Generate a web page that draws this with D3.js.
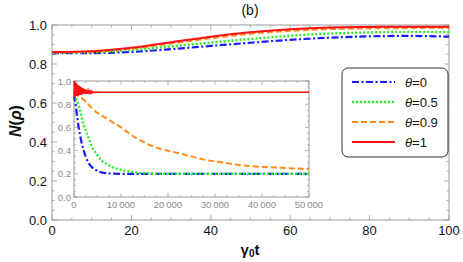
<!DOCTYPE html>
<html>
<head>
<meta charset="utf-8">
<script src="https://cdn.jsdelivr.net/npm/d3@7/dist/d3.min.js"></script>
<style>
  body { margin: 0; background: #fff; }
  svg { display: block; font-family: "Liberation Sans", Arial, sans-serif; }
</style>
</head>
<body>
<svg></svg>
<script>
var svg = d3.select("svg");
var svgWidth = 463, svgHeight = 262;
svg.attr("width", svgWidth).attr("height", svgHeight);

// main panel data (gamma0 t from 0 to 100)
var tMain = [0, 10, 20, 30, 40, 50, 60, 70, 80, 90, 100];
var mainTheta0  = [0.855, 0.856, 0.862, 0.876, 0.893, 0.909, 0.924, 0.935, 0.942, 0.944, 0.940];
var mainTheta05 = [0.858, 0.860, 0.872, 0.890, 0.910, 0.928, 0.945, 0.956, 0.962, 0.965, 0.964];
var mainTheta09 = [0.860, 0.863, 0.878, 0.905, 0.932, 0.955, 0.970, 0.979, 0.983, 0.984, 0.984];
var mainTheta1  = [0.861, 0.865, 0.883, 0.912, 0.940, 0.963, 0.978, 0.987, 0.990, 0.991, 0.991];

// inset data (gamma0 t from 0 to 50000)
var tInsetA = [0, 500, 1000, 1500, 2000, 3000, 4000, 5000, 6000, 8000, 10000, 20000, 30000, 40000, 50000];
var insetTheta0 = [0.88, 0.75, 0.60, 0.49, 0.41, 0.30, 0.25, 0.225, 0.21, 0.202, 0.200, 0.200, 0.200, 0.200, 0.200];
var tInsetB = [0, 1000, 2000, 3000, 4000, 5000, 6000, 7000, 8000, 10000, 12000, 15000, 20000, 30000, 40000, 50000];
var insetTheta05 = [0.88, 0.79, 0.63, 0.52, 0.42, 0.36, 0.31, 0.285, 0.26, 0.235, 0.218, 0.205, 0.200, 0.200, 0.200, 0.200];
var tInsetC = [0, 1000, 2000, 3000, 4500, 6000, 8000, 10000, 12000, 14000, 16000, 18000, 21000, 25000, 28000, 32000, 35000, 40000, 45000, 50000];
var insetTheta09 = [0.90, 0.87, 0.84, 0.80, 0.74, 0.70, 0.65, 0.60, 0.54, 0.49, 0.45, 0.42, 0.39, 0.35, 0.32, 0.295, 0.276, 0.26, 0.25, 0.241];
// theta=1 oscillates fast near t=0, then settles
var tInsetD = [0, 100, 200, 300, 400, 500, 600, 700, 800, 900, 1000, 1100, 1200, 1300, 1400, 1500, 1600, 1700, 1800, 1900,
               2000, 2200, 2400, 2600, 2800, 3000, 3200, 3400, 3600, 3800, 4000, 4300, 4600, 5000, 6000, 50000];
var insetTheta1 = [0.86, 1.00, 0.86, 0.99, 0.87, 0.98, 0.87, 0.97, 0.87, 0.96, 0.88, 0.96, 0.88, 0.95, 0.88, 0.95, 0.88, 0.94, 0.89, 0.94,
                   0.89, 0.93, 0.89, 0.925, 0.89, 0.92, 0.895, 0.915, 0.895, 0.912, 0.898, 0.908, 0.90, 0.905, 0.903, 0.903];

var legendLabels = ["\u03b8=0", "\u03b8=0.5", "\u03b8=0.9", "\u03b8=1"];
var styles = [
  {color: "#1a1aff", dash: "7,2.5,2,2.5", w: 2.2},
  {color: "#2ee82e", dash: "2,2", w: 2.4},
  {color: "#ff8c1a", dash: "6,3", w: 2.0},
  {color: "#ff1010", dash: null, w: 2.0}
];

var frameColor = "#9a9a9a";

// main scales
var x = d3.scaleLinear().domain([0, 100]).range([52, 449]);
var y = d3.scaleLinear().domain([0, 1]).range([220, 25]);

function insideTicks(g, scale, orient, major, minor, len, lenMinor) {
  // inward ticks drawn on a frame side
  minor.forEach(function(v) {
    var p = scale(v);
    var l = major.indexOf(v) >= 0 ? len : lenMinor;
    if (orient == "bottom") g.append("line").attr("x1", p).attr("x2", p).attr("y1", 0).attr("y2", -l);
    if (orient == "top") g.append("line").attr("x1", p).attr("x2", p).attr("y1", 0).attr("y2", l);
    if (orient == "left") g.append("line").attr("y1", p).attr("y2", p).attr("x1", 0).attr("x2", l);
    if (orient == "right") g.append("line").attr("y1", p).attr("y2", p).attr("x1", 0).attr("x2", -l);
  });
}

var main = svg.append("g");
main.append("rect").attr("x", 52).attr("y", 25).attr("width", 397).attr("height", 195)
  .attr("fill", "none").attr("stroke", frameColor).attr("stroke-width", 1);

var xMajor = d3.range(0, 101, 20), xMinor = d3.range(0, 101, 5);
var yMajor = [0, 0.2, 0.4, 0.6, 0.8, 1.0], yMinor = d3.range(0, 21).map(function(i) { return i * 0.05; });
var yM = yMajor.map(function(v){return +v.toFixed(2);}), ym = yMinor.map(function(v){return +v.toFixed(2);});
var tk = main.append("g").attr("stroke", frameColor).attr("stroke-width", 0.8);
insideTicks(tk.append("g").attr("transform", "translate(0,220)"), x, "bottom", xMajor, xMinor, 5, 2.5);
insideTicks(tk.append("g").attr("transform", "translate(0,25)"), x, "top", xMajor, xMinor, 5, 2.5);
insideTicks(tk.append("g").attr("transform", "translate(52,0)"), y, "left", yM, ym, 5, 2.5);
insideTicks(tk.append("g").attr("transform", "translate(449,0)"), y, "right", yM, ym, 5, 2.5);

main.selectAll(".xl").data(xMajor).enter().append("text")
  .attr("x", function(d) { return x(d); }).attr("y", 235)
  .attr("text-anchor", "middle").attr("font-size", 13).attr("fill", "#111")
  .text(function(d) { return d; });
main.selectAll(".yl").data(yMajor).enter().append("text")
  .attr("x", 47).attr("y", function(d) { return y(d) + 5; })
  .attr("text-anchor", "end").attr("font-size", 13).attr("fill", "#111")
  .text(function(d) { return d.toFixed(1); });

var mainSeries = [mainTheta0, mainTheta05, mainTheta09, mainTheta1];
var mainLine = d3.line().x(function(d, i) { return x(tMain[i]); }).y(function(d) { return y(d); }).curve(d3.curveMonotoneX);
mainSeries.forEach(function(s, i) {
  main.append("path").datum(s).attr("d", mainLine)
    .attr("fill", "none").attr("stroke", styles[i].color).attr("stroke-width", styles[i].w)
    .attr("stroke-dasharray", styles[i].dash);
});

// titles
svg.append("text").attr("x", 250).attr("y", 15).attr("text-anchor", "middle")
  .attr("font-size", 14).attr("fill", "#111").text("(b)");
svg.append("text").attr("transform", "translate(21,121) rotate(-90)").attr("text-anchor", "middle")
  .attr("font-size", 16).attr("font-weight", "bold").attr("fill", "#111")
  .html('<tspan font-style="italic">N</tspan>(<tspan font-style="italic">\u03c1</tspan>)');
svg.append("text").attr("x", 250).attr("y", 255).attr("text-anchor", "middle")
  .attr("font-size", 15).attr("font-weight", "bold").attr("fill", "#111")
  .html('\u03b3<tspan font-size="10" dy="2">0</tspan><tspan dy="-2">t</tspan>');

// inset
var xi = d3.scaleLinear().domain([0, 50000]).range([74, 309]);
var yi = d3.scaleLinear().domain([0, 1]).range([197, 81]);
var inset = svg.append("g");
inset.append("rect").attr("x", 74).attr("y", 81).attr("width", 235).attr("height", 116)
  .attr("fill", "#fff").attr("stroke", frameColor).attr("stroke-width", 1);
var xiMajor = d3.range(0, 50001, 10000), xiMinor = d3.range(0, 50001, 2500);
var tki = inset.append("g").attr("stroke", frameColor).attr("stroke-width", 0.7);
insideTicks(tki.append("g").attr("transform", "translate(0,197)"), xi, "bottom", xiMajor, xiMinor, 4, 2);
insideTicks(tki.append("g").attr("transform", "translate(0,81)"), xi, "top", xiMajor, xiMinor, 4, 2);
insideTicks(tki.append("g").attr("transform", "translate(74,0)"), yi, "left", yM, ym, 4, 2);
insideTicks(tki.append("g").attr("transform", "translate(309,0)"), yi, "right", yM, ym, 4, 2);
inset.selectAll(".xil").data(xiMajor).enter().append("text")
  .attr("x", function(d) { return xi(d); }).attr("y", 208)
  .attr("text-anchor", "middle").attr("font-size", 9.5).attr("fill", "#8a8a8a")
  .text(function(d) { return d == 0 ? "0" : d3.format(",")(d).replace(",", "\u2009"); });
inset.selectAll(".yil").data(yMajor).enter().append("text")
  .attr("x", 71).attr("y", function(d) { return yi(d) + 3.5; })
  .attr("text-anchor", "end").attr("font-size", 9.5).attr("fill", "#8a8a8a")
  .text(function(d) { return d.toFixed(1); });

var insetData = [[tInsetA, insetTheta0], [tInsetB, insetTheta05], [tInsetC, insetTheta09], [tInsetD, insetTheta1]];
insetData.forEach(function(pair, i) {
  var ts = pair[0];
  var ln = d3.line().x(function(d, j) { return xi(ts[j]); }).y(function(d) { return yi(d); });
  if (i < 3) ln.curve(d3.curveMonotoneX);
  inset.append("path").datum(pair[1]).attr("d", ln)
    .attr("fill", "none").attr("stroke", styles[i].color).attr("stroke-width", i == 3 ? 1.6 : styles[i].w)
    .attr("stroke-dasharray", styles[i].dash);
});

// legend
var legend = svg.append("g");
legend.append("rect").attr("x", 342).attr("y", 68).attr("width", 106).attr("height", 89)
  .attr("rx", 6).attr("fill", "#fff").attr("stroke", "#333").attr("stroke-width", 1);
legendLabels.forEach(function(lab, i) {
  var yy = 82 + i * 20;
  legend.append("line").attr("x1", 352).attr("x2", 395).attr("y1", yy).attr("y2", yy)
    .attr("stroke", styles[i].color).attr("stroke-width", styles[i].w)
    .attr("stroke-dasharray", styles[i].dash);
  legend.append("text").attr("x", 405).attr("y", yy + 5).attr("font-size", 13).attr("fill", "#111")
    .html('<tspan font-style="italic">\u03b8</tspan>' + lab.slice(1));
});
</script>
</body>
</html>
